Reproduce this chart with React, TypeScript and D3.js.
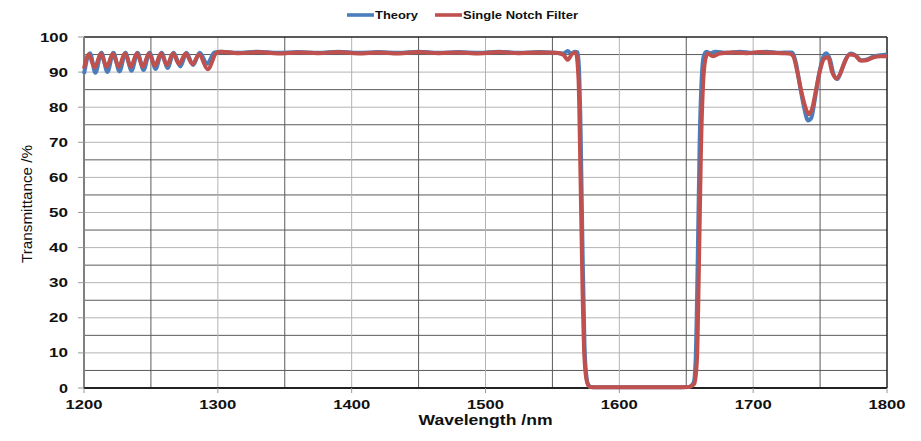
import React from "react";
import * as d3 from "d3";

// wavelength (nm) / transmittance (%)
const theoryWl = [
  1200, 1204.5, 1208.5, 1213, 1217.5, 1222, 1226.5, 1231, 1235.5, 1240, 1244.5, 1249, 1253.5, 1258, 1262.5,
  1267, 1272, 1276.5, 1281.5, 1286.5, 1292, 1297.5, 1302, 1315, 1330, 1345, 1360, 1375, 1390, 1405, 1420,
  1435, 1450, 1465, 1480, 1495, 1510, 1525, 1540, 1552, 1558, 1561.5, 1564, 1566.5, 1569, 1571, 1572.5,
  1574, 1575.5, 1577, 1579, 1583, 1600, 1620, 1640, 1652, 1655.5, 1657, 1658.5, 1660, 1661.5, 1663, 1665,
  1668, 1672, 1680, 1690, 1700, 1710, 1720, 1726, 1729, 1732, 1735, 1738, 1741, 1743.5, 1746, 1749,
  1752, 1754.5, 1757.5, 1760, 1763, 1766, 1769, 1773, 1777, 1781, 1785, 1790, 1795, 1800,
];
const theoryT = [
  89.5, 95.4, 89.8, 95.5, 90, 95.5, 90.2, 95.5, 90.4, 95.5, 90.6, 95.5, 90.9, 95.5, 91.2,
  95.5, 91.6, 95.5, 92, 95.5, 92.4, 95.6, 95.8, 95.5, 95.8, 95.5, 95.7, 95.5, 95.8, 95.5, 95.7,
  95.5, 95.8, 95.5, 95.7, 95.5, 95.8, 95.5, 95.7, 95.5, 95.3, 96, 95.2, 95.8, 95.6, 75, 40,
  12, 3, 0.8, 0.3, 0.2, 0.2, 0.2, 0.2, 0.3, 1.5, 8, 35, 70, 88, 94.5, 95.8,
  95.4, 95.8, 95.5, 95.8, 95.5, 95.8, 95.5, 95.6, 95.6, 92.5, 86, 80, 76.2, 77, 82, 89,
  94, 95.4, 93.5, 89.5, 88, 90.5, 93.5, 95.3, 94.6, 93.3, 93.6, 94.5, 94.8, 95,
];

const notchWl = [
  1200, 1203.5, 1208, 1212.5, 1217, 1221.5, 1226, 1230.5, 1235, 1239.5, 1244, 1248.5, 1253, 1257.5, 1262,
  1266.5, 1271, 1276, 1281, 1286, 1292.5, 1299, 1303, 1315, 1330, 1345, 1360, 1375, 1390, 1405, 1420,
  1435, 1450, 1465, 1480, 1495, 1510, 1525, 1540, 1552, 1558, 1561.5, 1565, 1567.5, 1569.5, 1571, 1572.5,
  1574, 1576, 1578, 1582, 1600, 1620, 1640, 1652, 1656, 1658, 1659.5, 1661, 1662.5, 1664, 1666,
  1670, 1675, 1685, 1695, 1705, 1715, 1722, 1727, 1730, 1733, 1736, 1739, 1741.5, 1744, 1747,
  1750, 1753, 1756, 1759, 1762, 1765, 1768, 1772, 1776, 1780, 1784, 1790, 1795, 1800,
];
const notchT = [
  91, 95, 91.3, 95.2, 91.5, 95.2, 91.5, 95.3, 91.5, 95.3, 91.5, 95.3, 91.8, 95.3, 92,
  95.3, 92.3, 95.3, 92.3, 95, 90.8, 95.5, 95.8, 95.4, 95.7, 95.3, 95.6, 95.4, 95.7, 95.3, 95.6,
  95.3, 95.7, 95.4, 95.6, 95.3, 95.7, 95.4, 95.6, 95.5, 95, 93.5, 95.3, 95.5, 88, 60, 28,
  8, 1.5, 0.3, 0.2, 0.2, 0.2, 0.2, 0.3, 1.2, 8, 35, 68, 86, 93, 95.3,
  94.5, 95.3, 95.6, 95.4, 95.7, 95.5, 95.4, 95.3, 94.5, 90, 84.5, 80, 78, 79.5, 85,
  90.5, 93.8, 94.2, 90, 88.2, 89.5, 92.5, 95, 94.8, 93.3, 93.3, 94.2, 94.5, 94.5,
];

const xTicks = [1200, 1300, 1400, 1500, 1600, 1700, 1800];
const yTicks = [0, 10, 20, 30, 40, 50, 60, 70, 80, 90, 100];

const W = 921;
const H = 441;
const left = 84;
const right = 887;
const top = 37;
const bottom = 388;

const font = "'Liberation Sans', Arial, sans-serif";

export default function App() {
  const x = d3.scaleLinear().domain([1200, 1800]).range([left, right]);
  const y = d3.scaleLinear().domain([0, 100]).range([bottom, top]);

  const pathFor = (wl: number[], t: number[]) =>
    d3
      .line<[number, number]>()
      .x((d) => x(d[0]))
      .y((d) => y(d[1]))
      .curve(d3.curveMonotoneX)(wl.map((w, i) => [w, t[i]] as [number, number])) || "";

  const hGrid = d3.range(5, 100, 5);
  const vGrid = d3.range(1250, 1800, 50);

  return (
    <svg width={W} height={H} style={{ position: "absolute", left: 0, top: 0, background: "#fff" }}>
      {/* grid */}
      {hGrid.map((v) => (
        <line
          key={"h" + v}
          x1={left}
          x2={right}
          y1={y(v)}
          y2={y(v)}
          stroke={v % 10 === 0 ? "#b4b4b4" : "#5a5a5a"}
          strokeWidth={1}
        />
      ))}
      {vGrid.map((v) => (
        <line
          key={"v" + v}
          x1={x(v)}
          x2={x(v)}
          y1={top}
          y2={bottom}
          stroke={v % 100 === 0 ? "#b4b4b4" : "#5a5a5a"}
          strokeWidth={1}
        />
      ))}

      {/* frame */}
      <line x1={left} x2={right} y1={top} y2={top} stroke="#222" strokeWidth={1.5} />
      <line x1={right} x2={right} y1={top} y2={bottom} stroke="#222" strokeWidth={1.5} />
      <line x1={left} x2={left} y1={top} y2={bottom + 1} stroke="#808080" strokeWidth={2} />
      <line x1={left} x2={right} y1={bottom} y2={bottom} stroke="#222" strokeWidth={2} />

      {/* ticks */}
      {yTicks.map((v) => (
        <g key={"yt" + v}>
          <line x1={left - 6} x2={left} y1={y(v)} y2={y(v)} stroke="#999" />
          <text
            x={68}
            y={y(v) + 4.5}
            textAnchor="end"
            fontFamily={font}
            fontWeight="bold"
            fontSize={13}
            fill="#111"
            textLength={v === 100 ? 28 : v === 0 ? 9 : 19}
            lengthAdjust="spacingAndGlyphs"
          >
            {v}
          </text>
        </g>
      ))}
      {xTicks.map((v) => (
        <g key={"xt" + v}>
          <line x1={x(v)} x2={x(v)} y1={bottom} y2={bottom + 5} stroke="#999" />
          <text
            x={x(v)}
            y={409}
            textAnchor="middle"
            fontFamily={font}
            fontWeight="bold"
            fontSize={13}
            fill="#111"
            textLength={37}
            lengthAdjust="spacingAndGlyphs"
          >
            {v}
          </text>
        </g>
      ))}

      {/* axis titles */}
      <text
        x={(left + right) / 2}
        y={425}
        textAnchor="middle"
        fontFamily={font}
        fontWeight="bold"
        fontSize={14}
        fill="#111"
        textLength={134}
        lengthAdjust="spacingAndGlyphs"
      >
        Wavelength /nm
      </text>
      <text
        transform={`translate(32,204) rotate(-90)`}
        textAnchor="middle"
        fontFamily={font}
        fontSize={14}
        fill="#111"
        textLength={118}
        lengthAdjust="spacingAndGlyphs"
      >
        Transmittance /%
      </text>

      {/* series */}
      <path d={pathFor(theoryWl, theoryT)} fill="none" stroke="#4a7ebb" strokeWidth={4} strokeLinejoin="round" />
      <path d={pathFor(notchWl, notchT)} fill="none" stroke="#c0504d" strokeWidth={4} strokeLinejoin="round" />

      {/* legend */}
      <line x1={347} x2={374} y1={15} y2={15} stroke="#4a7ebb" strokeWidth={3.6} />
      <text x={375} y={19} fontFamily={font} fontWeight="bold" fontSize={11} fill="#111" textLength={43} lengthAdjust="spacingAndGlyphs">
        Theory
      </text>
      <line x1={435} x2={462} y1={15} y2={15} stroke="#c0504d" strokeWidth={3.6} />
      <text x={463} y={19} fontFamily={font} fontWeight="bold" fontSize={11} fill="#111" textLength={115} lengthAdjust="spacingAndGlyphs">
        Single Notch Filter
      </text>
    </svg>
  );
}
